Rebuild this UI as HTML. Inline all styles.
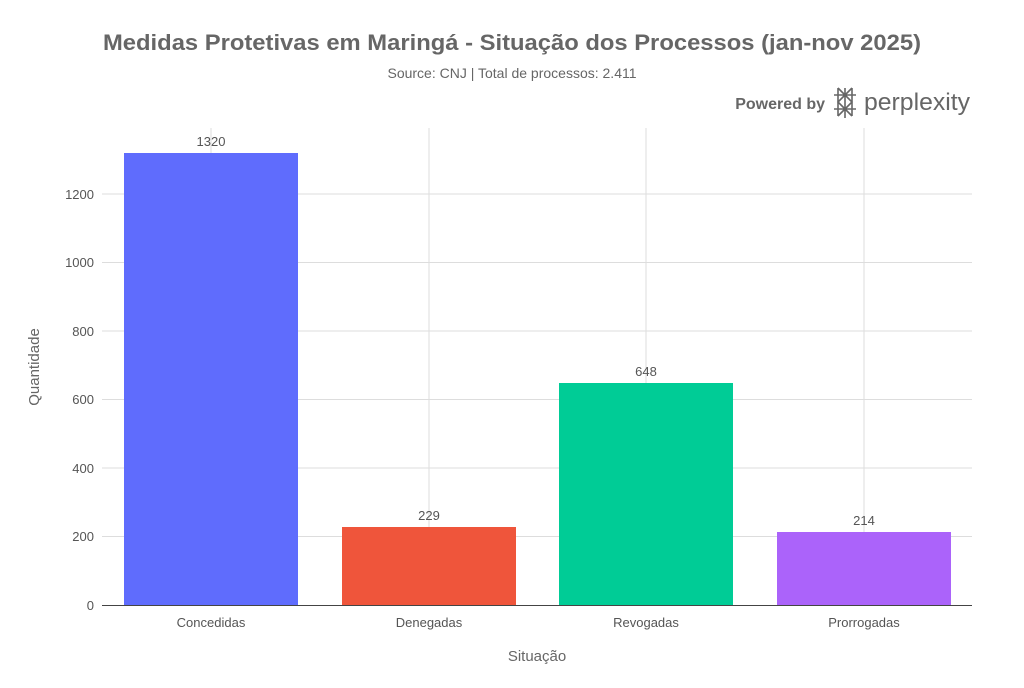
<!DOCTYPE html>
<html><head><meta charset="utf-8"><style>
body{margin:0;background:#fff;width:1024px;height:683px;overflow:hidden;font-family:"Liberation Sans",sans-serif}
</style></head><body>
<svg width="1024" height="683" xmlns="http://www.w3.org/2000/svg" font-family="Liberation Sans, sans-serif">
<rect width="1024" height="683" fill="#fff"/>
<text x="512" y="50" text-anchor="middle" font-size="22" font-weight="bold" fill="#666" textLength="818" lengthAdjust="spacingAndGlyphs">Medidas Protetivas em Maringá - Situação dos Processos (jan-nov 2025)</text>
<text x="512" y="78" text-anchor="middle" font-size="14" fill="#666">Source: CNJ | Total de processos: 2.411</text>
<text x="825" y="109" text-anchor="end" font-size="16" font-weight="bold" fill="#666">Powered by</text>
<g stroke="#666" stroke-width="1.6" fill="none">
<path d="M838 88 L838 116 M852 88 L852 116 M845 88 L845 118 M838 88 L852 102 L838 116 M852 88 L838 102 L852 116 M834 95 L856 95 M834 109 L856 109"/>
</g>
<text x="864" y="110" font-size="24" fill="#666" textLength="106" lengthAdjust="spacingAndGlyphs">perplexity</text>
<g stroke="#ddd" stroke-width="1">
<line x1="102" x2="972" y1="536.5" y2="536.5"/>
<line x1="102" x2="972" y1="468" y2="468"/>
<line x1="102" x2="972" y1="399.5" y2="399.5"/>
<line x1="102" x2="972" y1="331" y2="331"/>
<line x1="102" x2="972" y1="262.5" y2="262.5"/>
<line x1="102" x2="972" y1="194" y2="194"/>
<line x1="211" x2="211" y1="128" y2="605"/>
<line x1="429" x2="429" y1="128" y2="605"/>
<line x1="646" x2="646" y1="128" y2="605"/>
<line x1="864" x2="864" y1="128" y2="605"/>
</g>
<rect x="124" y="153" width="174" height="452" fill="#5f6cfd"/>
<rect x="342" y="527" width="174" height="78" fill="#ef553b"/>
<rect x="559" y="383" width="174" height="222" fill="#00cc96"/>
<rect x="777" y="532" width="174" height="73" fill="#ab63fa"/>
<line x1="102" x2="972" y1="605.5" y2="605.5" stroke="#444"/>
<g font-size="13" fill="#555" text-anchor="middle">
<text x="211" y="146">1320</text><text x="429" y="520">229</text><text x="646" y="376">648</text><text x="864" y="525">214</text>
<text x="211" y="627">Concedidas</text><text x="429" y="627">Denegadas</text><text x="646" y="627">Revogadas</text><text x="864" y="627">Prorrogadas</text>
</g>
<g font-size="13" fill="#555" text-anchor="end">
<text x="94" y="610">0</text><text x="94" y="541">200</text><text x="94" y="473">400</text><text x="94" y="404">600</text><text x="94" y="336">800</text><text x="94" y="267">1000</text><text x="94" y="199">1200</text>
</g>
<text x="537" y="661" text-anchor="middle" font-size="15" fill="#666">Situação</text>
<text transform="translate(39,367) rotate(-90)" text-anchor="middle" font-size="15" fill="#666">Quantidade</text>
</svg>
</body></html>
